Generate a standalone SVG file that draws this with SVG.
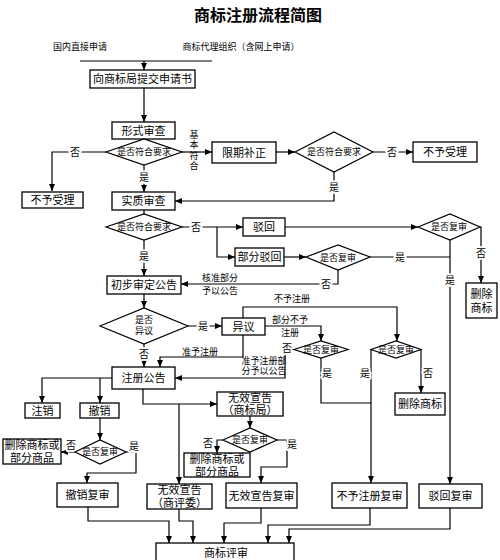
<svg xmlns="http://www.w3.org/2000/svg" width="500" height="560" viewBox="0 0 500 560">
<style>
text{font-family:"Liberation Serif","Noto Sans CJK SC",serif;fill:#000;text-anchor:middle;dominant-baseline:central}
.box{fill:#fff;stroke:#000;stroke-width:1.3}
.dia{fill:#fff;stroke:#000;stroke-width:1.2}
.c{fill:none;stroke:#000;stroke-width:1.2}
.a{marker-end:url(#ar)}
.t11{font-size:11px}
.t9{font-size:9px}
.lbl{font-size:10px;stroke:#fff;stroke-width:4px;paint-order:stroke;stroke-linejoin:round}
.ttl{font-size:16px;font-weight:bold}
</style>
<defs>
<marker id="ar" markerUnits="userSpaceOnUse" markerWidth="7" markerHeight="6" refX="7" refY="3" orient="auto">
<path d="M0,0 L7,3 L0,6 z" fill="#000"/>
</marker>
</defs>
<rect width="500" height="560" fill="#fff"/>
<text class="ttl" x="258" y="15">商标注册流程简图</text>
<text class="t9" x="80" y="47">国内直接申请</text>
<text class="t9" x="241" y="47">商标代理组织（含网上申请）</text>

<g id="connectors">
<path class="c" d="M80,61 H212"/>
<path class="c a" d="M144,61 V70"/>
<path class="c a" d="M144,88 V122"/>
<path class="c a" d="M106,152 H52 V191"/>
<path class="c a" d="M144,165 V192"/>
<path class="c a" d="M182,152 H212"/>
<path class="c a" d="M276,152 H295"/>
<path class="c a" d="M373,152 H413"/>
<path class="c a" d="M334,172 V201 H175"/>
<path class="c" d="M144,210 V214"/>
<path class="c a" d="M182,227 H243"/>
<path class="c a" d="M217,227 V257 H235"/>
<path class="c a" d="M285,227 H418"/>
<path class="c a" d="M480,227 H481 V283"/>
<path class="c a" d="M450,240 V484"/>
<path class="c a" d="M284,257 H306"/>
<path class="c" d="M370,257 H450"/>
<path class="c a" d="M338,270 V284 H181"/>
<path class="c a" d="M144,240 V276"/>
<path class="c a" d="M144,294 V308"/>
<path class="c a" d="M188,326 H222"/>
<path class="c a" d="M243,318 V307 H397 V341"/>
<path class="c a" d="M265,326 H321 V341"/>
<path class="c a" d="M294,349.5 H285 V378 H175"/>
<path class="c a" d="M243,335 V357 H160 V367"/>
<path class="c a" d="M144,344 V367"/>
<path class="c a" d="M112,378 H42 V403"/>
<path class="c a" d="M100,378 V403"/>
<path class="c a" d="M100,418 V440"/>
<path class="c a" d="M75,452 H61"/>
<path class="c a" d="M126,452 H136 V473 H87 V483"/>
<path class="c a" d="M88,507 V521 H169 V543"/>
<path class="c a" d="M143,389 V404 H217"/>
<path class="c a" d="M179,404 V484"/>
<path class="c a" d="M250,416 V428"/>
<path class="c a" d="M223,440 H217 V453"/>
<path class="c a" d="M277,440 H287 V467 H261 V483"/>
<path class="c a" d="M179,509 V521 H193 V543"/>
<path class="c a" d="M261,508 V523 H224 V543"/>
<path class="c a" d="M370,508 V525 H268 V543"/>
<path class="c a" d="M450,508 V529 H289 V543"/>
<path class="c a" d="M371,349.5 V483"/>
<path class="c a" d="M421,349.5 V393"/>
<path class="c" d="M321,358 V403 H371"/>
<text class="lbl" x="75" y="152">否</text>
<text class="lbl" x="144" y="177">是</text>
<text class="t9" x="194" y="135">基<tspan x="194" dy="10.3">本</tspan><tspan x="194" dy="10.3">符</tspan><tspan x="194" dy="10.3">合</tspan></text>
<text class="lbl" x="392" y="152">否</text>
<text class="lbl" x="334" y="187">是</text>
<text class="lbl" x="196" y="227">否</text>
<text class="lbl" x="481" y="253">否</text>
<text class="lbl" x="450" y="280">是</text>
<text class="lbl" x="400" y="257">是</text>
<text class="lbl" x="326" y="284">否</text>
<text class="t9" x="220" y="278">核准部分<tspan x="220" dy="13">予以公告</tspan></text>
<text class="lbl" x="144" y="256">是</text>
<text class="lbl" x="203" y="326">是</text>
<text class="t9" x="292" y="299">不予注册</text>
<text class="t9" x="290" y="320">部分不予<tspan x="290" dy="13">注册</tspan></text>
<text class="lbl" x="287" y="348">否</text>
<text class="t9" x="264" y="360.5">准予注册部<tspan x="264" dy="10">分予以公告</tspan></text>
<text class="t9" x="200" y="352">准予注册</text>
<text class="lbl" x="144" y="354">否</text>
<text class="lbl" x="365" y="373">是</text>
<text class="lbl" x="428" y="373">否</text>
<text class="lbl" x="327" y="373">是</text>
<text class="lbl" x="71" y="445">否</text>
<text class="lbl" x="134" y="446">是</text>
<text class="lbl" x="208" y="443">否</text>
<text class="lbl" x="292" y="444">是</text>
</g>

<g id="n-submit"><rect class="box" x="90" y="70" width="105" height="18"/><text class="t11" x="142.5" y="79">向商标局提交申请书</text></g>
<g id="n-formal"><rect class="box" x="112" y="122" width="63" height="17"/><text class="t11" x="143.5" y="130.5">形式审查</text></g>
<g id="d-formal"><polygon class="dia" points="106,152 144,139 182,152 144,165"/><text class="t9" x="144" y="152">是否符合要求</text></g>
<g id="n-reject1"><rect class="box" x="22" y="192" width="61" height="16"/><text class="t11" x="52.5" y="200">不予受理</text></g>
<g id="n-correct"><rect class="box" x="212" y="142" width="64" height="21"/><text class="t11" x="244" y="152.5">限期补正</text></g>
<g id="d-correct"><polygon class="dia" points="295,152 334,132 373,152 334,172"/><text class="t9" x="334" y="152">是否符合要求</text></g>
<g id="n-reject2"><rect class="box" x="413" y="142" width="64" height="20"/><text class="t11" x="445" y="152">不予受理</text></g>
<g id="n-substantive"><rect class="box" x="112" y="192" width="63" height="18"/><text class="t11" x="143.5" y="201">实质审查</text></g>
<g id="d-substantive"><polygon class="dia" points="106,227 144,214 182,227 144,240"/><text class="t9" x="144" y="227">是否符合要求</text></g>
<g id="n-refuse"><rect class="box" x="243" y="218" width="42" height="18"/><text class="t11" x="264" y="227">驳回</text></g>
<g id="d-refuse"><polygon class="dia" points="418,227 450,214 480,227 450,240"/><text class="t9" x="449" y="227">是否复审</text></g>
<g id="n-delete1"><rect class="box" x="466" y="283" width="31" height="35"/><text class="t11" x="481.5" y="294">删除<tspan x="481.5" dy="14">商标</tspan></text></g>
<g id="n-partrefuse"><rect class="box" x="235" y="248" width="49" height="18"/><text class="t11" x="259.5" y="257">部分驳回</text></g>
<g id="d-partrefuse"><polygon class="dia" points="306,257 338,245 370,257 338,270"/><text class="t9" x="338" y="257.5">是否复审</text></g>
<g id="n-prelim"><rect class="box" x="107" y="276" width="74" height="18"/><text class="t11" x="144" y="285">初步审定公告</text></g>
<g id="d-objection"><polygon class="dia" points="100,326 144,308 188,326 144,344"/><text class="t9" x="144" y="320">是否<tspan x="144" dy="11">异议</tspan></text></g>
<g id="n-objection"><rect class="box" x="222" y="318" width="43" height="17"/><text class="t11" x="243.5" y="326.5">异议</text></g>
<g id="d-obj-part"><polygon class="dia" points="294,349.5 321,341 348,349.5 321,358"/><text class="t9" x="321" y="349.5">是否复审</text></g>
<g id="d-obj-refuse"><polygon class="dia" points="371,349.5 396,341 421,349.5 396,358"/><text class="t9" x="396" y="349.5">是否复审</text></g>
<g id="n-delete2"><rect class="box" x="395" y="393" width="50" height="22"/><text class="t11" x="420" y="404">删除商标</text></g>
<g id="n-register"><rect class="box" x="112" y="367" width="63" height="22"/><text class="t11" x="143.5" y="378">注册公告</text></g>
<g id="n-cancel"><rect class="box" x="25" y="403" width="35" height="15"/><text class="t11" x="42.5" y="410.5">注销</text></g>
<g id="n-revoke"><rect class="box" x="80" y="403" width="39" height="15"/><text class="t11" x="99.5" y="410.5">撤销</text></g>
<g id="d-revoke"><polygon class="dia" points="75,452 100,440 126,452 100,464"/><text class="t9" x="100" y="452">是否复审</text></g>
<g id="n-delete3"><rect class="box" x="3" y="439" width="58" height="25"/><text class="t11" x="32" y="445.3">删除商标或<tspan x="32" dy="12.5">部分商品</tspan></text></g>
<g id="n-revoke-review"><rect class="box" x="57" y="483" width="61" height="24"/><text class="t11" x="87.5" y="495">撤销复审</text></g>
<g id="n-invalid-office"><rect class="box" x="217" y="392" width="66" height="24"/><text class="t11" x="250" y="397.8">无效宣告<tspan x="250" dy="12.5">（商标局）</tspan></text></g>
<g id="d-invalid"><polygon class="dia" points="223,440 250,428 277,440 250,452"/><text class="t9" x="250" y="440">是否复审</text></g>
<g id="n-delete4"><rect class="box" x="184" y="453" width="66" height="24"/><text class="t11" x="217" y="459">删除商标或<tspan x="217" dy="12.5">部分商品</tspan></text></g>
<g id="n-invalid-review"><rect class="box" x="226" y="483" width="71" height="25"/><text class="t11" x="261.5" y="495.5">无效宣告复审</text></g>
<g id="n-invalid-board"><rect class="box" x="147" y="484" width="65" height="25"/><text class="t11" x="179.5" y="490.3">无效宣告<tspan x="179.5" dy="12.5">（商评委）</tspan></text></g>
<g id="n-refuse-reg-review"><rect class="box" x="332" y="483" width="75" height="25"/><text class="t11" x="369.5" y="495.5">不予注册复审</text></g>
<g id="n-refuse-review"><rect class="box" x="419" y="484" width="63" height="24"/><text class="t11" x="450.5" y="496">驳回复审</text></g>
<g id="n-board"><rect class="box" x="156" y="543" width="138" height="22"/><text class="t11" x="226" y="553">商标评审</text></g>
</svg>
